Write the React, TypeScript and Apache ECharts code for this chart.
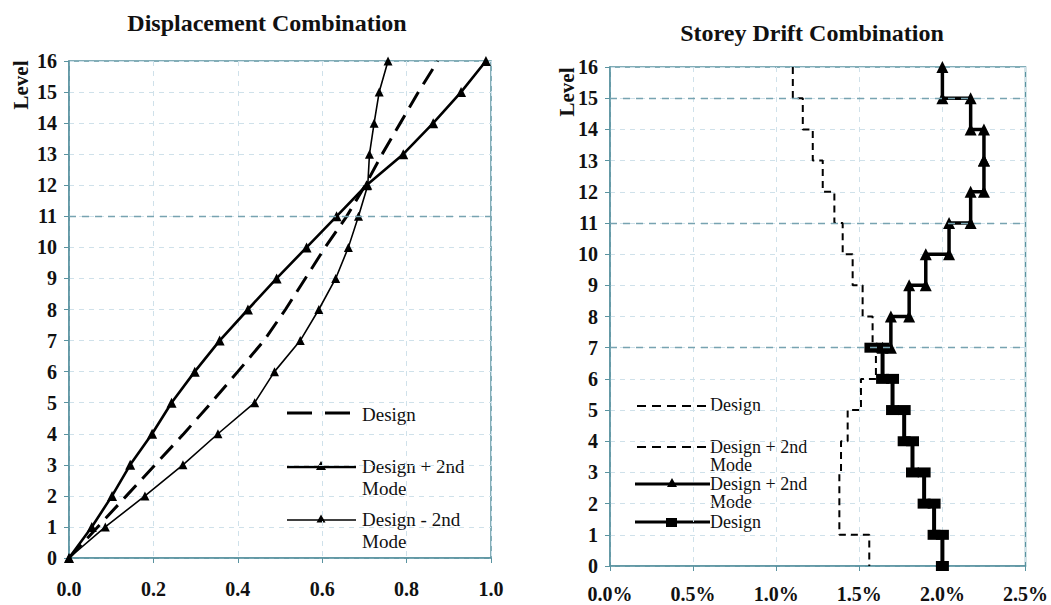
import { useEffect, useRef } from "react";
import * as echarts from "echarts";

// ---- Displacement combination (left panel) ----
const levels = [0, 1, 2, 3, 4, 5, 6, 7, 8, 9, 10, 11, 12, 13, 14, 15, 16];
const dispDesign = [0, 0.068, 0.136, 0.204, 0.272, 0.337, 0.4, 0.462, 0.513, 0.56, 0.607, 0.658, 0.702, 0.742, 0.785, 0.828, 0.874];
const dispPlus2nd = [0, 0.054, 0.102, 0.145, 0.197, 0.243, 0.298, 0.357, 0.424, 0.492, 0.563, 0.634, 0.705, 0.792, 0.863, 0.929, 0.988];
const dispMinus2nd = [0, 0.086, 0.18, 0.27, 0.353, 0.44, 0.487, 0.548, 0.592, 0.632, 0.662, 0.686, 0.708, 0.712, 0.723, 0.735, 0.756];
const dispMarkedLevels = [11];

// ---- Storey drift combination (right panel), values in % per storey ----
const storeys = [1, 2, 3, 4, 5, 6, 7, 8, 9, 10, 11, 12, 13, 14, 15, 16];
const driftDashed = [1.56, 1.38, 1.38, 1.39, 1.43, 1.51, 1.6, 1.58, 1.52, 1.46, 1.4, 1.35, 1.28, 1.22, 1.16, 1.1];
const driftTriangle = [null, null, null, null, null, null, null, 1.69, 1.8, 1.9, 2.04, 2.17, 2.25, 2.25, 2.17, 2.0];
const driftSquare = [2.0, 1.95, 1.89, 1.82, 1.77, 1.7, 1.64, null, null, null, null, null, null, null, null, null];
const squareStartAtLevel7 = 1.57;
const dashedSplitLevel = 6;
const driftMarkedLevels = [15, 11, 7];

const FONT = "Liberation Serif";
const AXIS = "#5a93a0";
const FAINT = "#cfe1ea";
const MARK = "#77a3b1";
const INK = "#000";

// Step outline of storey drifts: each storey is a vertical segment between its floor and ceiling
function stepPoints(drifts: (number | null)[], fromStorey: number, toStorey: number) {
  const pts: number[][] = [];
  for (let s = toStorey; s >= fromStorey; s--) {
    const d = drifts[storeys.indexOf(s)];
    if (d == null) continue;
    pts.push([d, s], [d, s - 1]);
  }
  return pts;
}

function markLines(vals: number[]) {
  return {
    silent: true,
    symbol: ["none", "none"],
    label: { show: false },
    lineStyle: { color: MARK, width: 1.4, type: [7, 6] },
    data: vals.map((v) => ({ yAxis: v })),
  };
}

function valueAxis(grid: number, min: number, max: number, interval: number, fmt: (v: number) => string, margin: number) {
  return {
    gridIndex: grid,
    type: "value",
    min,
    max,
    interval,
    axisLine: { show: true, onZero: false, lineStyle: { color: AXIS, width: 1.5 } },
    axisTick: { show: true, length: 5, lineStyle: { color: AXIS } },
    axisLabel: { formatter: fmt, color: "#111", fontFamily: FONT, fontWeight: "bold", fontSize: 20, margin },
    splitLine: { show: true, lineStyle: { color: FAINT, type: [5, 5] } },
  };
}

function triangle(x: number, y: number, r: number) {
  return {
    type: "polygon",
    shape: { points: [[x, y - r], [x - r, y + r * 0.8], [x + r, y + r * 0.8]] },
    style: { fill: INK },
  };
}

function legendText(x: number, y: number, text: string, size: number, lh: number) {
  return {
    type: "text",
    x,
    y,
    style: { text, fill: "#111", fontFamily: FONT, fontSize: size, lineHeight: lh, align: "left", verticalAlign: "top" },
  };
}

export default function App() {
  const ref = useRef<HTMLDivElement>(null);

  useEffect(() => {
    if (!ref.current) return;
    const chart = echarts.init(ref.current, null, { renderer: "svg" });

    const upperDashed = stepPoints(driftDashed, dashedSplitLevel + 1, 16);
    const lowerDashed = [
      [driftDashed[storeys.indexOf(dashedSplitLevel + 1)], dashedSplitLevel],
      ...stepPoints(driftDashed, 1, dashedSplitLevel),
    ];
    const trianglePts = [...stepPoints(driftTriangle, 8, 16), [driftSquare[storeys.indexOf(7)] as number, 7]];
    const squarePts = [[squareStartAtLevel7, 7], ...stepPoints(driftSquare, 1, 7)];

    const titleStyle = { fill: "#111", fontFamily: FONT, fontWeight: "bold", fontSize: 24, align: "center", verticalAlign: "middle" };
    const levelStyle = { text: "Level", fill: "#111", fontFamily: FONT, fontWeight: "bold", fontSize: 21, align: "center", verticalAlign: "middle" };

    chart.setOption({
      animation: false,
      backgroundColor: "#fff",
      grid: [
        { left: 69, top: 61, width: 422, height: 497, show: true, borderColor: AXIS, borderWidth: 1.5, backgroundColor: "transparent" },
        { left: 610, top: 67, width: 418, height: 499, show: true, borderColor: AXIS, borderWidth: 1.5, backgroundColor: "transparent" },
      ],
      xAxis: [
        valueAxis(0, 0, 1, 0.2, (v) => v.toFixed(1), 21),
        valueAxis(1, 0, 2.5, 0.5, (v) => v.toFixed(1) + "%", 18),
      ],
      yAxis: [
        valueAxis(0, 0, 16, 1, (v) => String(v), 12),
        valueAxis(1, 0, 16, 1, (v) => String(v), 12),
      ],
      series: [
        {
          type: "line",
          name: "Design",
          xAxisIndex: 0,
          yAxisIndex: 0,
          data: levels.map((l, i) => [dispDesign[i], l]),
          symbol: "none",
          lineStyle: { color: INK, width: 3, type: [18, 9] },
          markLine: markLines(dispMarkedLevels),
          z: 3,
        },
        {
          type: "line",
          name: "Design + 2nd Mode",
          xAxisIndex: 0,
          yAxisIndex: 0,
          data: levels.map((l, i) => [dispPlus2nd[i], l]),
          symbol: "triangle",
          symbolSize: 10,
          itemStyle: { color: INK },
          lineStyle: { color: INK, width: 2.6 },
          z: 4,
        },
        {
          type: "line",
          name: "Design - 2nd Mode",
          xAxisIndex: 0,
          yAxisIndex: 0,
          data: levels.map((l, i) => [dispMinus2nd[i], l]),
          symbol: "triangle",
          symbolSize: 9,
          itemStyle: { color: INK },
          lineStyle: { color: INK, width: 1.6 },
          z: 4,
        },
        {
          type: "line",
          name: "Design + 2nd Mode (drift, dashed)",
          xAxisIndex: 1,
          yAxisIndex: 1,
          data: upperDashed,
          symbol: "none",
          lineStyle: { color: INK, width: 2, type: [7, 5] },
          markLine: markLines(driftMarkedLevels),
          z: 3,
        },
        {
          type: "line",
          name: "Design (drift, dashed)",
          xAxisIndex: 1,
          yAxisIndex: 1,
          data: lowerDashed,
          symbol: "none",
          lineStyle: { color: INK, width: 2, type: [7, 5] },
          z: 3,
        },
        {
          type: "line",
          name: "Design + 2nd Mode (drift)",
          xAxisIndex: 1,
          yAxisIndex: 1,
          data: trianglePts,
          symbol: "triangle",
          symbolSize: 12,
          itemStyle: { color: INK },
          lineStyle: { color: INK, width: 3.5 },
          z: 4,
        },
        {
          type: "line",
          name: "Design (drift)",
          xAxisIndex: 1,
          yAxisIndex: 1,
          data: squarePts,
          symbol: "rect",
          symbolSize: [13, 10],
          itemStyle: { color: INK },
          lineStyle: { color: INK, width: 4 },
          z: 4,
        },
      ],
      graphic: [
        { type: "text", x: 267, y: 23, style: { ...titleStyle, text: "Displacement Combination" } },
        { type: "text", x: 812, y: 33, style: { ...titleStyle, text: "Storey Drift Combination" } },
        { type: "text", x: 21, y: 85, rotation: Math.PI / 2, style: levelStyle },
        { type: "text", x: 567, y: 92, rotation: Math.PI / 2, style: levelStyle },

        // left legend
        { type: "line", shape: { x1: 287, y1: 413, x2: 352, y2: 413 }, style: { stroke: INK, lineWidth: 3, lineDash: [25, 13] } },
        legendText(362, 403, "Design", 19, 22),
        { type: "line", shape: { x1: 287, y1: 467, x2: 356, y2: 467 }, style: { stroke: INK, lineWidth: 2.6 } },
        triangle(321, 466, 5),
        legendText(362, 455, "Design + 2nd\nMode", 19, 22),
        { type: "line", shape: { x1: 287, y1: 520, x2: 356, y2: 520 }, style: { stroke: INK, lineWidth: 1.6 } },
        triangle(321, 519, 4.5),
        legendText(362, 508, "Design - 2nd\nMode", 19, 22),

        // right legend
        { type: "line", shape: { x1: 637, y1: 406, x2: 708, y2: 406 }, style: { stroke: INK, lineWidth: 2, lineDash: [9, 6] } },
        legendText(710, 396, "Design", 18, 18),
        { type: "line", shape: { x1: 637, y1: 447, x2: 708, y2: 447 }, style: { stroke: INK, lineWidth: 2, lineDash: [9, 6] } },
        legendText(710, 438, "Design + 2nd\nMode", 18, 18),
        { type: "line", shape: { x1: 635, y1: 484, x2: 710, y2: 484 }, style: { stroke: INK, lineWidth: 3 } },
        triangle(672, 483, 5),
        legendText(710, 475, "Design + 2nd\nMode", 18, 18),
        { type: "line", shape: { x1: 635, y1: 522, x2: 710, y2: 522 }, style: { stroke: INK, lineWidth: 3 } },
        { type: "rect", shape: { x: 666, y: 518, width: 11, height: 9 }, style: { fill: INK } },
        legendText(710, 513, "Design", 18, 18),
      ],
    });

    return () => chart.dispose();
  }, []);

  return (
    <div
      ref={ref}
      style={{ position: "fixed", left: 0, top: 0, width: 1051, height: 605, background: "#fff" }}
    />
  );
}
